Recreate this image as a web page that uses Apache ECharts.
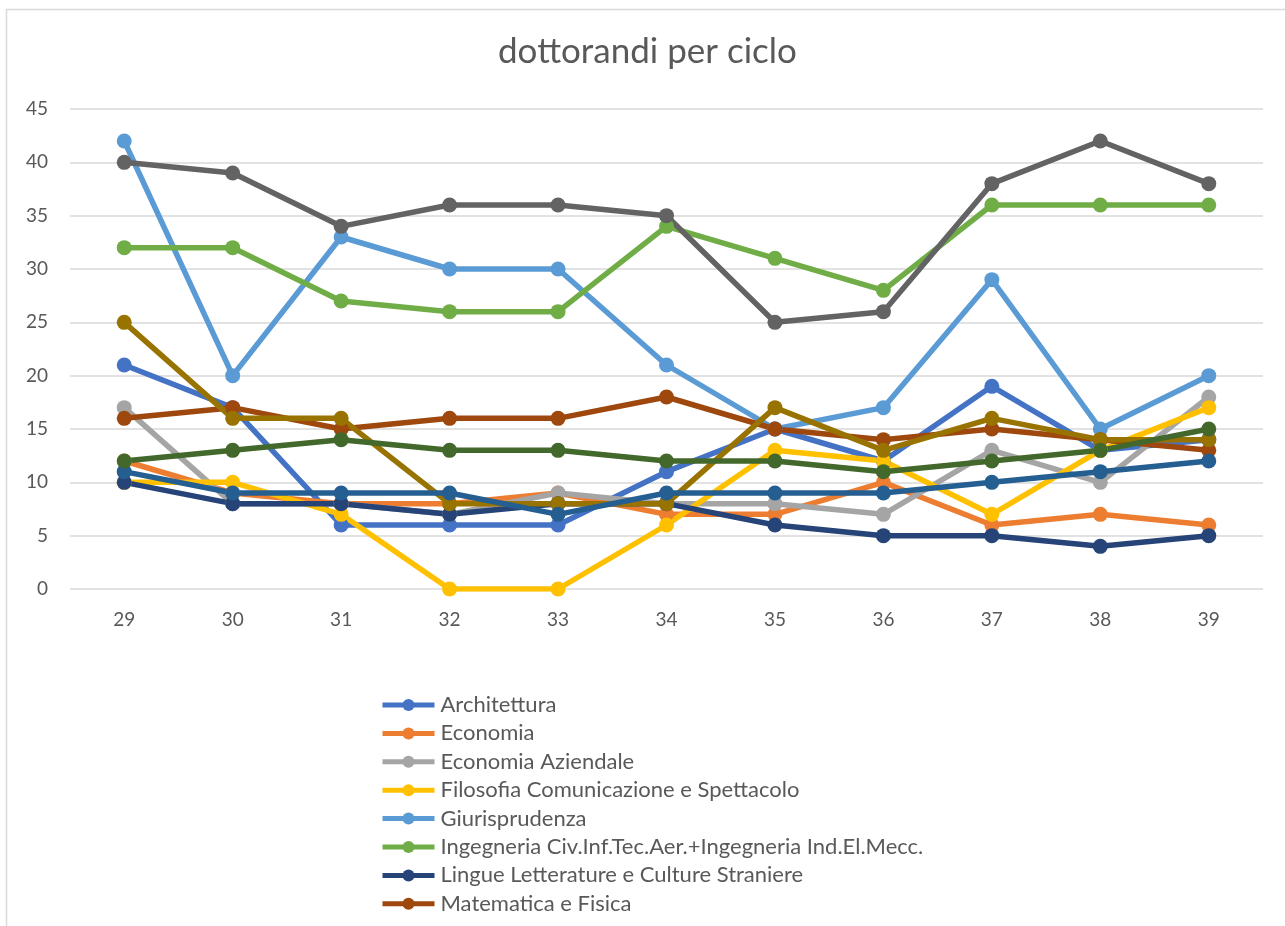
<!DOCTYPE html>
<html>
<head>
<meta charset="utf-8">
<script src="https://cdn.jsdelivr.net/npm/echarts@6/dist/echarts.min.js"></script>
<style>
html,body{margin:0;padding:0;background:#fff;}
#chart{width:1285px;height:926px;}
</style>
</head>
<body>
<div id="chart"></div>
<script>
const categories = ['29','30','31','32','33','34','35','36','37','38','39'];

const architettura   = [21,17,6,6,6,11,15,12,19,13,14];
const economia       = [12,9,8,8,9,7,7,10,6,7,6];
const economiaAz     = [17,8,8,7,9,8,8,7,13,10,18];
const filosofia      = [10,10,7,0,0,6,13,12,7,13,17];
const giurisprudenza = [42,20,33,30,30,21,15,17,29,15,20];
const ingegneria     = [32,32,27,26,26,34,31,28,36,36,36];
const lingue         = [10,8,8,7,8,8,6,5,5,4,5];
const matematica     = [16,17,15,16,16,18,15,14,15,14,13];
const scienze        = [40,39,34,36,36,35,25,26,38,42,38];
const scienzeForm    = [25,16,16,8,8,8,17,13,16,14,14];
const scienzePol     = [11,9,9,9,7,9,9,9,10,11,12];
const studiUman      = [12,13,14,13,13,12,12,11,12,13,15];

const seriesNames = [
  'Architettura','Economia','Economia Aziendale','Filosofia Comunicazione e Spettacolo',
  'Giurisprudenza','Ingegneria Civ.Inf.Tec.Aer.+Ingegneria Ind.El.Mecc.',
  'Lingue Letterature e Culture Straniere','Matematica e Fisica',
  'Scienze','Scienze della Formazione','Scienze Politiche','Studi Umanistici'
];
const seriesData = [architettura,economia,economiaAz,filosofia,giurisprudenza,ingegneria,
  lingue,matematica,scienze,scienzeForm,scienzePol,studiUman];
const colors = ['#4472C4','#ED7D31','#A5A5A5','#FFC000','#5B9BD5','#70AD47',
  '#264478','#9E480E','#636363','#997300','#255E91','#43682B'];

const legendNames = seriesNames.slice(0, 8);
const yTicks = {min: 0, max: 45, interval: 5};

const FONT = 'Lato, "Open Sans", sans-serif';
const chart = echarts.init(document.getElementById('chart'));
chart.setOption({
  animation: false,
  color: colors,
  graphic: [{
    type: 'rect',
    shape: {x: 6.5, y: 9.5, width: 1400, height: 1100},
    style: {fill: 'none', stroke: '#d9d9d9', lineWidth: 1.5},
    silent: true
  }],
  title: {
    text: 'dottorandi per ciclo',
    left: 498,
    top: 34,
    padding: 0,
    textStyle: {fontFamily: FONT, fontSize: 35, fontWeight: 'normal', color: '#595959'}
  },
  grid: {left: 70, right: 22, top: 109, bottom: 337, containLabel: false},
  xAxis: {
    type: 'category',
    data: categories,
    boundaryGap: true,
    axisLine: {show: false},
    axisTick: {show: false},
    axisLabel: {color: '#595959', fontSize: 19, fontFamily: FONT, margin: 21}
  },
  yAxis: {
    type: 'value',
    min: yTicks.min, max: yTicks.max, interval: yTicks.interval,
    axisLine: {show: false},
    axisTick: {show: false},
    axisLabel: {color: '#595959', fontSize: 19, fontFamily: FONT, margin: 22},
    splitLine: {lineStyle: {color: '#d9d9d9', width: 1.5}}
  },
  legend: {
    orient: 'vertical',
    left: 380,
    top: 694,
    padding: 0,
    data: legendNames,
    itemWidth: 52,
    itemHeight: 15,
    itemGap: 6.4,
    lineStyle: {width: 5},
    textStyle: {color: '#595959', fontSize: 22, fontFamily: FONT, padding: [0, 0, 0, 1]}
  },
  series: seriesNames.map((n, i) => ({
    name: n,
    type: 'line',
    data: seriesData[i],
    symbol: 'circle',
    symbolSize: 15,
    lineStyle: {width: 5.5, color: colors[i]},
    itemStyle: {color: colors[i]}
  }))
});
</script>
</body>
</html>
